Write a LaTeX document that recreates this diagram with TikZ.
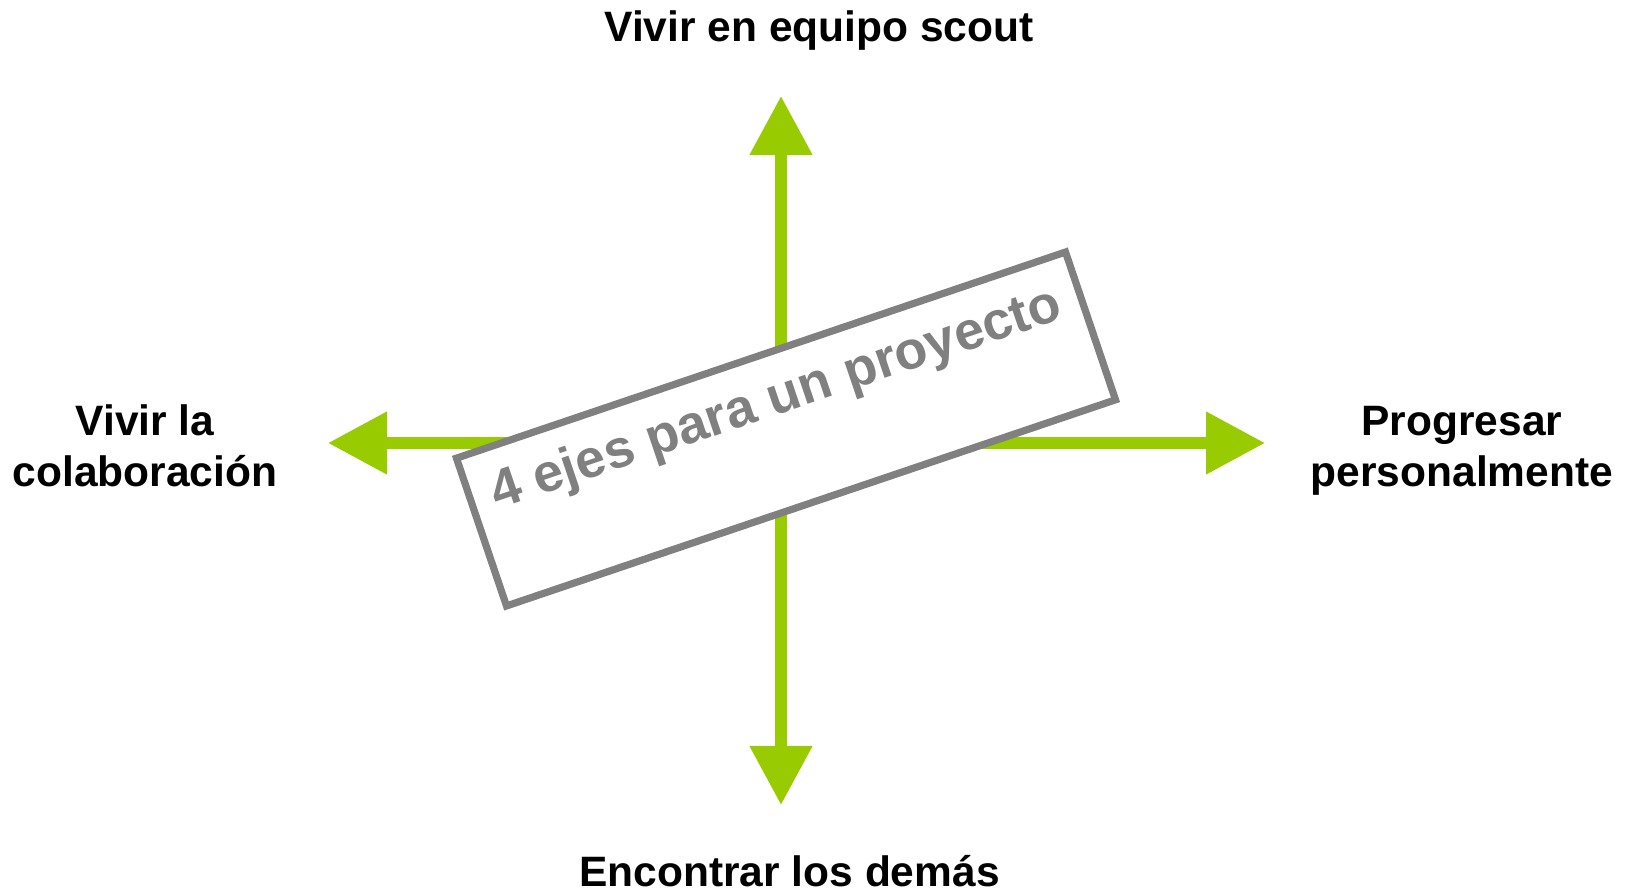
\documentclass[tikz,border=0pt]{standalone}
\usepackage{fontspec}
\setmainfont{Liberation Sans}
\usetikzlibrary{arrows.meta,positioning}
\definecolor{ejeverde}{HTML}{99CC00}
\definecolor{marcogris}{HTML}{808080}

\begin{document}
\begin{tikzpicture}[x=0.5pt,y=-0.5pt,
    flecha/.style={line width=5.6pt,draw=ejeverde,
      {Triangle[length=29.5pt,width=30pt]}-{Triangle[length=29.5pt,width=30pt]}},
    eje/.style={font=\fontsize{21.25}{25.5}\selectfont\bfseries,align=center,anchor=base,inner sep=0pt},
    marcobox/.style={draw=marcogris,line width=3.6pt,fill=white,minimum width=321.5pt,
      minimum height=78pt,inner sep=0pt,rotate=18.7},
    titulo/.style={font=\fontsize{26.8}{30}\selectfont\bfseries,text=marcogris,inner sep=0pt,
      anchor=base,rotate=18.7}]
  \useasboundingbox (0,0) rectangle (1635,892);
  % puntas de los ejes
  \coordinate (arriba) at (781,96);
  \coordinate (abajo) at (781,805);
  \coordinate (izq) at (328,443);
  \coordinate (der) at (1265,443);
  \draw[flecha] (abajo) -- (arriba);
  \draw[flecha] (izq) -- (der);
  % cartel central
  \node[marcobox] (marco) at (786,429) {};
  \node[titulo] (titulo) at (780.9,413.9) {4 ejes para un proyecto};
  % los cuatro ejes
  \node[eje] (equipo) at (819,41.7) {Vivir en equipo scout};
  \node[eje] (demas) at (789.5,887) {Encontrar los demás};
  \node[eje] (colab) at (145,487) {Vivir la\\colaboración};
  \node[eje] (progreso) at (1462,487) {Progresar\\personalmente};
\end{tikzpicture}
\end{document}
